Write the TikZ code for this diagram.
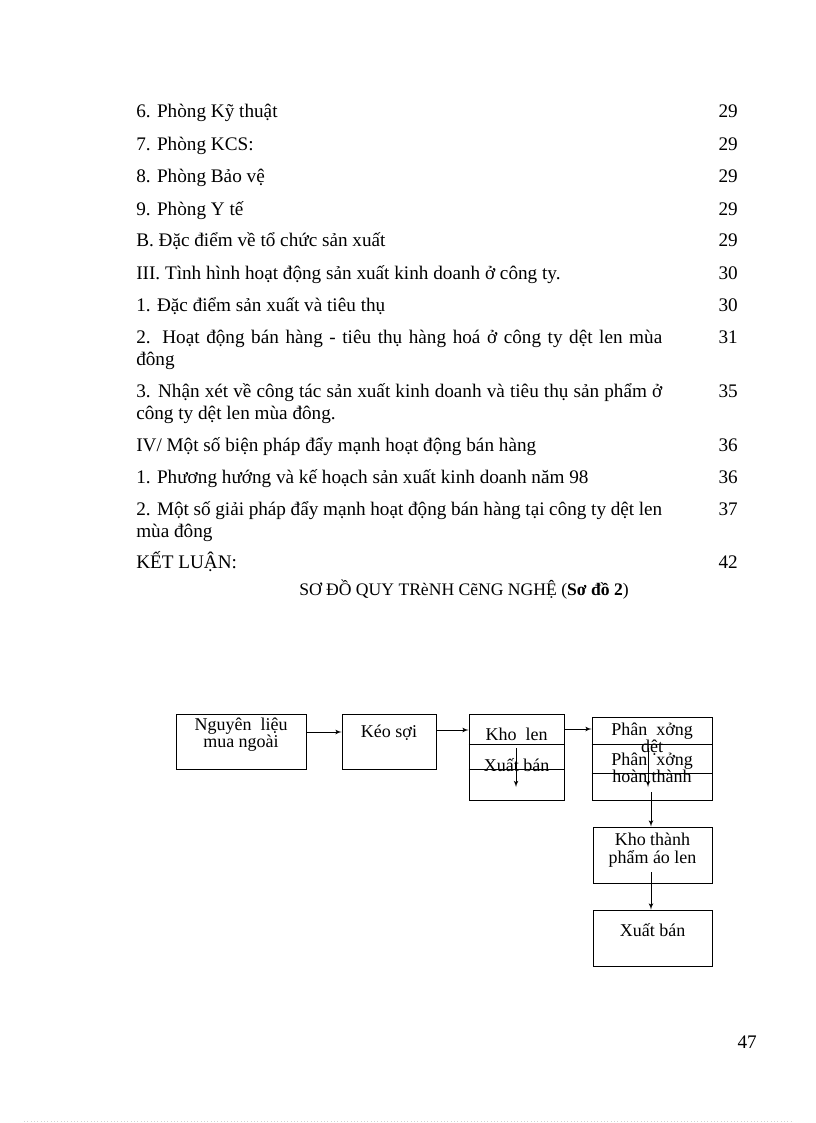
\documentclass[tikz,border=0pt]{standalone}
\usepackage{fontspec}
\setmainfont{Liberation Serif}
\usetikzlibrary{arrows}

\begin{document}
\begin{tikzpicture}[x=0.75pt,y=-0.75pt]
        \tikzset{entry/.style = {anchor=base west, inner sep=0pt, text width=394.5pt, align=justify,
                font=\fontsize{14.4}{16.5}\selectfont}}
        \tikzset{pageno/.style = {anchor=base east, inner sep=0pt, font=\fontsize{14.4}{16.5}\selectfont}}
        \tikzset{box/.style = {shape=rectangle, draw, line width=0.7pt, inner sep=0pt}}
        \tikzset{boxtxt/.style = {align=center, inner sep=0pt, font=\fontsize{13.5}{13}\selectfont}}
        \tikzset{flow/.style = {->, > = latex', line width=0.6pt}}
        \useasboundingbox (0,0) rectangle (816,1123);

        % table of contents
        \node[entry] (e6) at (136,118) {6. Phòng Kỹ thuật};
        \node[entry] (e7) at (136,151) {7. Phòng KCS:};
        \node[entry] (e8) at (136,183) {8. Phòng Bảo vệ};
        \node[entry] (e9) at (136,215) {9. Phòng Y tế};
        \node[entry] (eB) at (136,247) {B. Đặc điểm về tổ chức sản xuất};
        \node[entry] (eIII) at (136,279) {III. Tình hình hoạt động sản xuất kinh doanh ở công ty.};
        \node[entry] (eIII1) at (136,311) {1. Đặc điểm sản xuất và tiêu thụ};
        \node[entry] (eIII2) at (136,343) {2. Hoạt động bán hàng - tiêu thụ hàng hoá ở công ty dệt len mùa\linebreak đông};
        \node[entry] (eIII3) at (136,397) {3. Nhận xét về công tác sản xuất kinh doanh và tiêu thụ sản phẩm ở\linebreak công ty dệt len mùa đông.};
        \node[entry] (eIV) at (136,451) {IV/ Một số biện pháp đẩy mạnh hoạt động bán hàng};
        \node[entry] (eIV1) at (136,483) {1. Phương hướng và kế hoạch sản xuất kinh doanh năm 98};
        \node[entry] (eIV2) at (136,515) {2. Một số giải pháp đẩy mạnh hoạt động bán hàng tại công ty dệt len\linebreak mùa đông};
        \node[entry] (eKL) at (136,568) {KẾT LUẬN:};

        % page numbers
        \node[pageno] (p6) at (738,118) {29};
        \node[pageno] (p7) at (738,151) {29};
        \node[pageno] (p8) at (738,183) {29};
        \node[pageno] (p9) at (738,215) {29};
        \node[pageno] (pB) at (738,247) {29};
        \node[pageno] (pIII) at (738,279) {30};
        \node[pageno] (pIII1) at (738,311) {30};
        \node[pageno] (pIII2) at (738,343) {31};
        \node[pageno] (pIII3) at (738,397) {35};
        \node[pageno] (pIV) at (738,451) {36};
        \node[pageno] (pIV1) at (738,483) {36};
        \node[pageno] (pIV2) at (738,515) {37};
        \node[pageno] (pKL) at (738,568) {42};

        % title
        \node[anchor=base, inner sep=0pt, font=\fontsize{13.2}{15}\selectfont] (title) at (464,595)
            {SƠ ĐỒ QUY TRèNH CẽNG NGHỆ (\textbf{Sơ đồ 2})};

        % boxes
        \node[box, minimum width=97.5pt, minimum height=41.25pt] (nguyen) at (241,741.5) {};
        \node[box, minimum width=70.5pt, minimum height=41.25pt] (keo) at (389,741.5) {};
        \node[box, minimum width=71.25pt, minimum height=64.5pt] (kholen) at (516.5,757) {};
        \node[box, minimum width=90pt, minimum height=62.25pt] (phan) at (652,758.5) {};
        \node[box, minimum width=89.25pt, minimum height=42pt] (khotp) at (652.5,855) {};
        \node[box, minimum width=89.25pt, minimum height=42pt] (xuat) at (652.5,938) {};

        % rows inside boxes
        \draw[line width=0.7pt] (kholen.west |- 0,744) -- (kholen.east |- 0,744);
        \draw[line width=0.7pt] (kholen.west |- 0,769) -- (kholen.east |- 0,769);
        \draw[line width=0.7pt] (phan.west |- 0,744) -- (phan.east |- 0,744);
        \draw[line width=0.7pt] (phan.west |- 0,773) -- (phan.east |- 0,773);

        % texts
        \node[boxtxt] (nguyenTxt) at (241,735) {Nguyên\ \ liệu\\mua ngoài};
        \node[boxtxt] (keoTxt) at (389,733) {Kéo sợi};
        \node[boxtxt] (kholenTxt) at (516.5,734) {Kho\ \ len};
        \node[boxtxt] (xuat1Txt) at (516.5,765) {Xuất bán};
        \node[boxtxt] (detTxt) at (652,739) {Phân\ \ xởng\\dệt};
        \node[boxtxt] (hoanTxt) at (652,768) {Phân\ \ xởng\\hoàn thành};
        \node[boxtxt] (khotpTxt) at (652.5,850) {Kho thành\\phẩm áo len};
        \node[boxtxt] (xuat2Txt) at (652.5,930) {Xuất bán};

        % free ends
        \coordinate (kholenA) at (516,748);
        \coordinate (kholenB) at (516,787);
        \coordinate (phanA) at (648,748);
        \coordinate (phanB) at (648,787);
        \coordinate (phanC) at (651,792);
        \coordinate (khotpC) at (651,872);

        %edges
        \draw[flow] (nguyen.east |- 0,732) -- (keo.west |- 0,732);
        \draw[flow] (keo.east |- 0,730) -- (kholen.west |- 0,730);
        \draw[flow] (kholen.east |- 0,729) -- (phan.west |- 0,729);
        \draw[flow] (kholenA) -- (kholenB);
        \draw[flow] (phanA) -- (phanB);
        \draw[flow] (phanC) -- (phanC |- khotp.north);
        \draw[flow] (khotpC) -- (khotpC |- xuat.north);

        % page number and bottom rule
        \node[pageno] (pageNo) at (757,1048) {47};
        \coordinate (ruleL) at (24,1121);
        \coordinate (ruleR) at (792,1121);
        \draw[gray!35, dotted, line width=0.5pt] (ruleL) -- (ruleR);
    \end{tikzpicture}
\end{document}
